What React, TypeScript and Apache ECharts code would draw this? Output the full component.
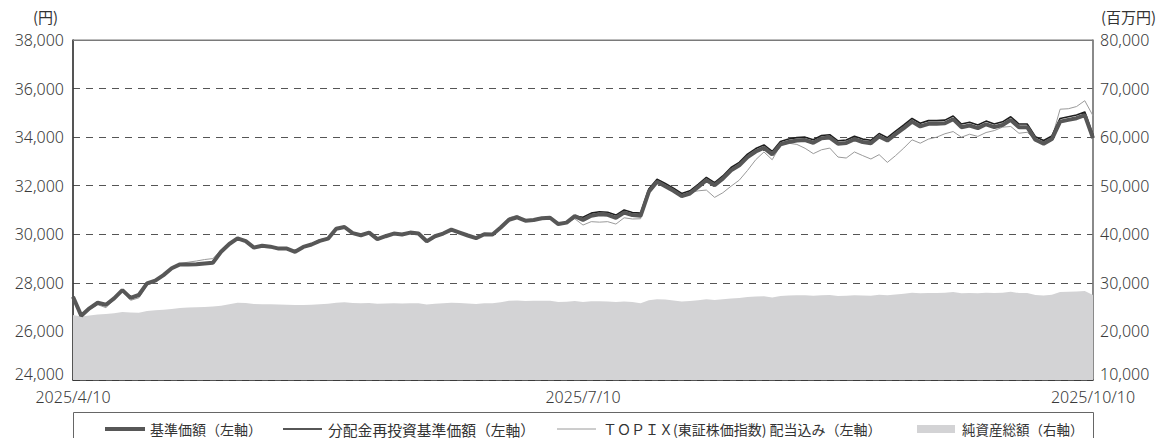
import React, { useEffect, useRef } from "react";
import * as echarts from "echarts";

// Japanese market holidays in the period (weekends are skipped too)
const holidays = ["2025-04-29", "2025-05-05", "2025-05-06", "2025-07-21", "2025-08-11", "2025-09-15", "2025-09-23"];
const startDate = "2025-04-10";
const endDate = "2025-10-10";
const tickLabels = ["2025/4/10", "2025/7/10", "2025/10/10"];

function tradingDays(start: string, end: string): string[] {
  const out: string[] = [];
  const [sy, sm, sd] = start.split("-").map(Number);
  const [ey, em, ed] = end.split("-").map(Number);
  let t = Date.UTC(sy, sm - 1, sd);
  const e = Date.UTC(ey, em - 1, ed);
  while (t <= e) {
    const d = new Date(t);
    const iso = d.toISOString().slice(0, 10);
    const wd = d.getUTCDay();
    if (wd !== 0 && wd !== 6 && holidays.indexOf(iso) < 0) {
      out.push(`${d.getUTCFullYear()}/${d.getUTCMonth() + 1}/${d.getUTCDate()}`);
    }
    t += 86400000;
  }
  return out;
}
const categories = tradingDays(startDate, endDate);

// 基準価額（円）
const basePrice = [
  27430, 26650, 26950, 27180, 27100, 27360, 27700, 27380, 27500, 27980,
  28090, 28320, 28600, 28760, 28760, 28770, 28800, 28830, 29280, 29600,
  29830, 29720, 29450, 29530, 29490, 29410, 29410, 29280, 29480, 29580,
  29730, 29820, 30230, 30300, 30050, 29960, 30070, 29800, 29920, 30030,
  29990, 30070, 30030, 29710, 29920, 30030, 30190, 30070, 29950, 29840,
  30000, 29990, 30280, 30600, 30700, 30560, 30590, 30660, 30680, 30420,
  30480, 30750, 30590, 30760, 30820, 30800, 30680, 30890, 30790, 30760,
  31750, 32160, 31980, 31790, 31570, 31680, 31950, 32230, 32020, 32290,
  32630, 32840, 33180, 33410, 33560, 33290, 33700, 33800, 33860, 33880,
  33770, 33950, 33980, 33730, 33760, 33920, 33800, 33750, 34030, 33860,
  34120, 34370, 34640, 34440, 34550, 34550, 34570, 34740, 34410, 34480,
  34370, 34530, 34410, 34500, 34710, 34410, 34410, 33890, 33730, 33920,
  34640, 34710, 34780, 34910, 33960,
];

// 分配金再投資基準価額（円）
const reinvestedPrice = [
  27430, 26650, 26950, 27180, 27100, 27360, 27700, 27380, 27500, 27980,
  28090, 28320, 28600, 28760, 28760, 28770, 28800, 28830, 29280, 29600,
  29830, 29720, 29450, 29530, 29490, 29410, 29410, 29280, 29480, 29580,
  29730, 29820, 30230, 30300, 30050, 29960, 30070, 29800, 29920, 30030,
  29990, 30070, 30030, 29710, 29920, 30030, 30190, 30070, 29950, 29840,
  30000, 29990, 30280, 30600, 30700, 30560, 30590, 30660, 30680, 30420,
  30480, 30750, 30700, 30870, 30930, 30910, 30790, 31000, 30900, 30870,
  31860, 32270, 32090, 31900, 31680, 31790, 32060, 32340, 32130, 32400,
  32750, 32960, 33300, 33530, 33680, 33410, 33820, 33920, 33980, 34000,
  33890, 34070, 34100, 33850, 33880, 34040, 33920, 33870, 34150, 33980,
  34250, 34500, 34770, 34570, 34680, 34680, 34700, 34870, 34540, 34610,
  34500, 34660, 34540, 34630, 34840, 34540, 34540, 34020, 33860, 34050,
  34770, 34840, 34910, 35040, 34090,
];

// ＴＯＰＩＸ（配当込み）
const topix = [
  27430, 26600, 26900, 27100, 26980, 27300, 27680, 27280, 27380, 27900,
  28050, 28300, 28620, 28800, 28850, 28900, 28960, 29000, 29350, 29620,
  29850, 29730, 29460, 29540, 29500, 29420, 29440, 29300, 29500, 29620,
  29780, 29850, 30250, 30340, 30080, 29980, 30100, 29830, 29950, 30050,
  30010, 30080, 30050, 29720, 29940, 30060, 30220, 30090, 29950, 29850,
  30020, 29990, 30320, 30680, 30780, 30580, 30600, 30650, 30680, 30400,
  30470, 30640, 30380, 30520, 30500, 30520, 30420, 30680, 30630, 30640,
  31700, 32160, 31980, 31800, 31600, 31720, 31790, 31820, 31520, 31710,
  31980, 32230, 32630, 33070, 33390, 33070, 33660, 33750, 33700, 33540,
  33320, 33480, 33550, 33180, 33140, 33390, 33240, 33100, 33280, 32960,
  33240, 33550, 33890, 33750, 33920, 34000, 34140, 34230, 34000, 34120,
  34030, 34190, 34270, 34410, 34440, 34160, 34200, 33890, 33820, 33960,
  35150, 35170, 35260, 35500, 34880,
];

// 純資産総額（百万円）
const netAssets = [
  23380, 23050, 23300, 23500, 23600, 23720, 24000, 23900, 23850, 24200,
  24350, 24450, 24600, 24800, 24950, 25000, 25050, 25150, 25300, 25600,
  25900, 25850, 25650, 25600, 25600, 25550, 25500, 25450, 25450, 25500,
  25600, 25700, 25900, 26000, 25850, 25780, 25850, 25700, 25750, 25800,
  25750, 25800, 25780, 25550, 25700, 25800, 25900, 25850, 25750, 25650,
  25800, 25800, 26000, 26300, 26350, 26250, 26300, 26300, 26300, 26050,
  26100, 26250, 26050, 26200, 26200, 26150, 26050, 26150, 26050, 25800,
  26400, 26650, 26550, 26350, 26150, 26250, 26400, 26600, 26450, 26600,
  26800, 26900, 27100, 27200, 27250, 27000, 27300, 27400, 27450, 27450,
  27350, 27450, 27500, 27300, 27350, 27450, 27400, 27350, 27550, 27450,
  27600, 27750, 27950, 27850, 27900, 27900, 27950, 28100, 27850, 27900,
  27850, 27950, 27900, 27950, 28150, 27900, 27900, 27500, 27400, 27550,
  28100, 28150, 28200, 28300, 27500,
];

const legendNames = [
  "基準価額（左軸）",
  "分配金再投資基準価額（左軸）",
  "ＴＯＰＩＸ(東証株価指数) 配当込み（左軸）",
  "純資産総額（右軸）",
];

const FONT = "Noto Sans CJK JP";
const NUMFONT = "Noto Sans";
const TXT = "#333333";
const NUMTXT = "#3a3a3a";

const leftFmt = (v: number) => (v === 24000 ? `{low|${v.toLocaleString("en-US")}}` : v.toLocaleString("en-US"));
const rightFmt = (v: number) => (v === 10000 ? `{low|${v.toLocaleString("en-US")}}` : v.toLocaleString("en-US"));
const lowRich = { low: { fontSize: 16, fontFamily: NUMFONT, fontWeight: 300, color: NUMTXT, padding: [0, 0, 12, 0] } };

export default function App() {
  const ref = useRef<HTMLDivElement>(null);
  useEffect(() => {
    if (!ref.current) return;
    const chart = echarts.init(ref.current, undefined, { renderer: "svg" });
    const legendY = 429;
    const legendText = (x: number, text: string, size = 14) => ({
      type: "text",
      x,
      y: legendY,
      style: { text, fill: TXT, fontSize: size, fontFamily: FONT, verticalAlign: "middle" },
    });
    chart.setOption({
      animation: false,
      backgroundColor: "#ffffff",
      textStyle: { fontFamily: FONT },
      grid: {
        left: 73,
        right: 72,
        top: 40,
        bottom: 58,
        show: true,
        borderColor: "#7a7a7a",
        borderWidth: 1,
      },
      xAxis: {
        type: "category",
        data: categories,
        boundaryGap: false,
        axisLine: { show: true, lineStyle: { color: "#333", width: 1.5 } },
        axisTick: { show: false },
        axisLabel: {
          interval: 61,
          color: NUMTXT,
          fontSize: 16,
          fontFamily: NUMFONT,
          fontWeight: 300,
          margin: 9,
          formatter: (val: string) => (tickLabels.indexOf(val) >= 0 ? val : ""),
        },
        splitLine: { show: false },
      },
      yAxis: [
        {
          type: "value",
          min: 24000,
          max: 38000,
          interval: 2000,
          axisLine: { show: true, lineStyle: { color: "#333", width: 1.5 } },
          axisTick: { show: false },
          axisLabel: {
            color: NUMTXT,
            fontSize: 16,
            fontFamily: NUMFONT,
            fontWeight: 300,
            margin: 9,
            formatter: leftFmt,
            rich: lowRich,
          },
          splitLine: {
            show: true,
            lineStyle: { color: "#555", type: [7, 6], width: 1 },
          },
        },
        {
          type: "value",
          min: 10000,
          max: 80000,
          interval: 10000,
          axisLine: { show: true, lineStyle: { color: "#7a7a7a", width: 1.5 } },
          axisTick: { show: false },
          axisLabel: {
            color: NUMTXT,
            fontSize: 16,
            fontFamily: NUMFONT,
            fontWeight: 300,
            margin: 7,
            formatter: rightFmt,
            rich: lowRich,
          },
          splitLine: { show: false },
        },
      ],
      series: [
        {
          name: legendNames[3],
          type: "line",
          yAxisIndex: 1,
          data: netAssets,
          symbol: "none",
          lineStyle: { width: 0, color: "#d3d3d5" },
          areaStyle: { color: "#d3d3d5", opacity: 1 },
          z: 1,
        },
        {
          name: legendNames[2],
          type: "line",
          data: topix,
          symbol: "none",
          lineStyle: { width: 1, color: "#9a9a9a" },
          z: 2,
        },
        {
          name: legendNames[1],
          type: "line",
          data: reinvestedPrice,
          symbol: "none",
          lineStyle: { width: 1.6, color: "#1e1e1e" },
          z: 3,
        },
        {
          name: legendNames[0],
          type: "line",
          data: basePrice,
          symbol: "none",
          lineStyle: { width: 4, color: "#575757" },
          z: 4,
        },
      ],
      graphic: [
        {
          type: "line",
          z: 50,
          shape: { x1: 73, y1: 40.5, x2: 1093, y2: 40.5 },
          style: { stroke: "#7a7a7a", lineWidth: 1.2 },
        },
        {
          type: "text",
          left: 33,
          top: 9,
          style: { text: "(円)", fill: TXT, fontSize: 15, fontFamily: FONT },
        },
        {
          type: "text",
          left: 1101,
          top: 9,
          style: { text: "(百万円)", fill: TXT, fontSize: 15, fontFamily: FONT },
        },
        {
          type: "rect",
          shape: { x: 73.5, y: 412.5, width: 1020, height: 40 },
          style: { fill: "#fff", stroke: "#666", lineWidth: 1 },
        },
        {
          type: "line",
          shape: { x1: 105, y1: legendY, x2: 145, y2: legendY },
          style: { stroke: "#575757", lineWidth: 4 },
        },
        legendText(150, legendNames[0]),
        {
          type: "line",
          shape: { x1: 283, y1: legendY, x2: 322, y2: legendY },
          style: { stroke: "#1e1e1e", lineWidth: 1.6 },
        },
        legendText(328, legendNames[1], 14.8),
        {
          type: "line",
          shape: { x1: 557, y1: legendY, x2: 596, y2: legendY },
          style: { stroke: "#9a9a9a", lineWidth: 1 },
        },
        legendText(603, legendNames[2]),
        {
          type: "rect",
          shape: { x: 917, y: legendY - 4, width: 38, height: 8 },
          style: { fill: "#d3d3d5" },
        },
        legendText(962, legendNames[3], 13.5),
      ],
    });
    return () => chart.dispose();
  }, []);
  return (
    <div
      ref={ref}
      style={{ position: "fixed", left: 0, top: 0, width: 1165, height: 438, background: "#fff" }}
    />
  );
}
